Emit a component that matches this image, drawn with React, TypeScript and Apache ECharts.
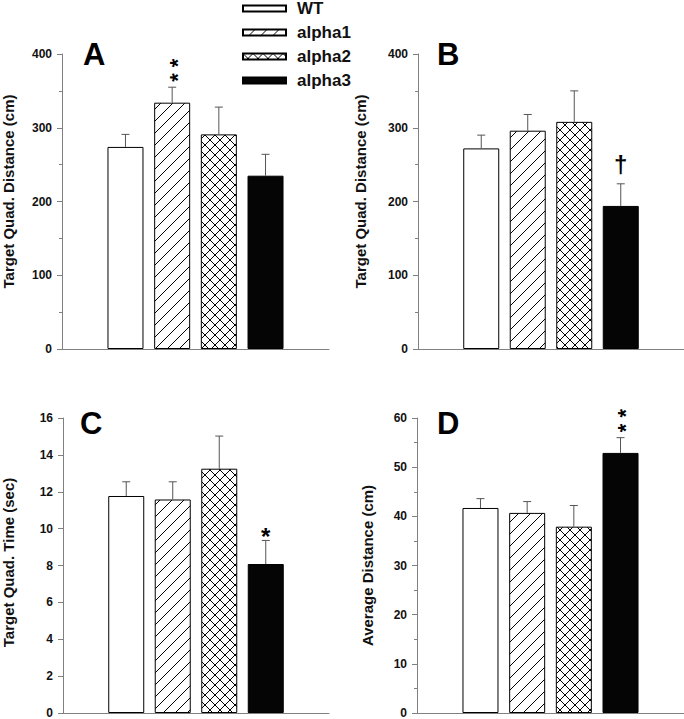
import React, { useEffect, useRef } from 'react';
import * as echarts from 'echarts';

const categories = ['WT', 'alpha1', 'alpha2', 'alpha3'];
const panelLetters = ['A', 'B', 'C', 'D'];
const yNames = [
  'Target Quad. Distance (cm)',
  'Target Quad. Distance (cm)',
  'Target Quad. Time (sec)',
  'Average Distance (cm)',
];

const valuesA = [274, 334, 291, 235];
const errorsA = [17, 21, 37, 29];
const marksA = ['', '**', '', ''];

const valuesB = [272, 296, 308, 194];
const errorsB = [18, 22, 42, 30];
const marksB = ['', '', '', '†'];

const valuesC = [11.77, 11.58, 13.25, 8.08];
const errorsC = [0.77, 0.96, 1.77, 1.28];
const marksC = ['', '', '', '*'];

const valuesD = [41.7, 40.7, 37.9, 52.9];
const errorsD = [1.9, 2.3, 4.3, 3.1];
const marksD = ['', '', '', '**'];

const yMax = [400, 400, 16, 60];
const yInterval = [100, 100, 2, 10];
const yMinorSplit = [2, 2, 0, 2];

const panelValues = [valuesA, valuesB, valuesC, valuesD];
const panelErrors = [errorsA, errorsB, errorsC, errorsD];
const panelMarks = [marksA, marksB, marksC, marksD];

// layout (pixels)
const grids = [
  { left: 62, top: 54, width: 267, height: 295 },
  { left: 418, top: 54, width: 266, height: 295 },
  { left: 62, top: 418, width: 267, height: 295 },
  { left: 417, top: 418, width: 267, height: 295 },
];
const nameGaps = [46, 50, 47, 42];
const namePads = [[0, 0, 0, 20], [0, 0, 0, 20], [0, 0, 0, 6], [0, 0, 0, 0]];
const letterPos = [
  { x: 83, y: 39 },
  { x: 437, y: 39 },
  { x: 80, y: 408 },
  { x: 437, y: 408 },
];

const FONT = '"Liberation Sans", Arial, Helvetica, sans-serif';
const AXIS_COLOR = '#808080';

function makePattern(size: number, kind: 'diag' | 'cross') {
  const c = document.createElement('canvas');
  c.width = size;
  c.height = size;
  const ctx = c.getContext('2d')!;
  ctx.fillStyle = '#ffffff';
  ctx.fillRect(0, 0, size, size);
  ctx.strokeStyle = '#000000';
  ctx.lineWidth = 1;
  ctx.beginPath();
  for (const k of [-size, 0, size]) {
    ctx.moveTo(k, size);
    ctx.lineTo(k + size, 0);
    if (kind === 'cross') {
      ctx.moveTo(k, 0);
      ctx.lineTo(k + size, size);
    }
  }
  ctx.stroke();
  return c;
}

export default function App() {
  const ref = useRef<HTMLDivElement>(null);

  useEffect(() => {
    if (!ref.current) return;
    const chart = echarts.init(ref.current, undefined, { renderer: 'svg' });

    const diag = makePattern(12, 'diag');
    const cross = makePattern(10, 'cross');
    const fills: any[] = [
      '#ffffff',
      { image: diag, repeat: 'repeat' },
      { image: cross, repeat: 'repeat' },
      '#050505',
    ];

    const xAxes = grids.map((_, p) => ({
      type: 'value',
      gridIndex: p,
      min: -1.36,
      max: categories.length - 1 + 1.36,
      axisLine: { show: true, onZero: false, lineStyle: { color: AXIS_COLOR, width: 1 } },
      axisTick: { show: false },
      axisLabel: { show: false },
      splitLine: { show: false },
    }));

    const yAxes = grids.map((_, p) => ({
      type: 'value',
      gridIndex: p,
      min: 0,
      max: yMax[p],
      interval: yInterval[p],
      axisLine: { show: true, onZero: false, lineStyle: { color: AXIS_COLOR, width: 1 } },
      axisTick: { show: true, length: 5, lineStyle: { color: AXIS_COLOR } },
      minorTick: {
        show: yMinorSplit[p] > 0,
        splitNumber: yMinorSplit[p] || 2,
        length: 3,
        lineStyle: { color: AXIS_COLOR },
      },
      splitLine: { show: false },
      minorSplitLine: { show: false },
      axisLabel: {
        margin: 10,
        fontSize: 12,
        fontWeight: 'bold',
        fontFamily: FONT,
        color: '#111',
      },
      name: yNames[p],
      nameLocation: 'middle',
      nameRotate: 90,
      nameGap: nameGaps[p],
      nameTextStyle: {
        fontSize: 15,
        fontWeight: 'bold',
        fontFamily: FONT,
        color: '#111',
        padding: namePads[p],
      },
    }));

    const series: any[] = [];
    grids.forEach((_, p) => {
      const vals = panelValues[p];
      const errs = panelErrors[p];
      const marks = panelMarks[p];
      categories.forEach((cat, i) => {
        series.push({
          type: 'bar',
          name: cat,
          xAxisIndex: p,
          yAxisIndex: p,
          barWidth: 36,
          barGap: '-100%',
          data: [[i, vals[i]]],
          itemStyle: { color: fills[i], borderColor: '#000', borderWidth: 1 },
          silent: true,
        });
      });
      series.push({
        type: 'custom',
        name: 'err' + p,
        xAxisIndex: p,
        yAxisIndex: p,
        z: 5,
        silent: true,
        data: vals.map((v, i) => [i, v, errs[i]]),
        renderItem: (params: any, api: any) => {
          const x = api.value(0);
          const v = api.value(1);
          const e = api.value(2);
          const p0 = api.coord([x, v]);
          const p1 = api.coord([x, v + e]);
          const lineStyle = { stroke: '#555', lineWidth: 1 };
          const children: any[] = [
            { type: 'line', shape: { x1: p0[0], y1: p0[1], x2: p1[0], y2: p1[1] }, style: lineStyle },
            { type: 'line', shape: { x1: p1[0] - 4, y1: p1[1], x2: p1[0] + 4, y2: p1[1] }, style: lineStyle },
          ];
          const m = marks[params.dataIndex];
          if (m) {
            const isDagger = m === '†';
            const stacked = m.length > 1;
            if (stacked) {
              // two asterisks stacked vertically, drawn as one rotated text
              children.push({
                type: 'text',
                x: p1[0] + 5,
                y: p1[1] - 17,
                rotation: Math.PI / 2,
                style: {
                  text: m.split('').join(' '),
                  fill: '#000',
                  fontSize: 22,
                  fontWeight: 'bold',
                  fontFamily: FONT,
                  align: 'center',
                  verticalAlign: 'middle',
                },
              });
            } else {
              children.push({
                type: 'text',
                x: p1[0],
                y: p1[1] - (isDagger ? 19 : 4),
                style: {
                  text: m,
                  fill: '#000',
                  fontSize: 24,
                  fontWeight: 'bold',
                  fontFamily: FONT,
                  align: 'center',
                  verticalAlign: 'middle',
                },
              });
            }
          }
          return { type: 'group', children };
        },
      });
    });

    chart.setOption({
      animation: false,
      backgroundColor: '#ffffff',
      grid: grids.map((g) => ({ ...g, containLabel: false })),
      xAxis: xAxes,
      yAxis: yAxes,
      legend: {
        data: categories,
        orient: 'vertical',
        left: 242,
        top: 0,
        padding: 0,
        itemWidth: 43,
        itemHeight: 6,
        itemGap: 7,
        icon: 'rect',
        selectedMode: false,
        textStyle: {
          fontSize: 17,
          fontWeight: 'bold',
          fontFamily: FONT,
          color: '#111',
          lineHeight: 17,
          padding: [0, 0, 0, 6],
        },
      },
      graphic: panelLetters.map((l, p) => ({
        type: 'text',
        x: letterPos[p].x,
        y: letterPos[p].y,
        style: {
          text: l,
          fontSize: 31,
          fontWeight: 'bold',
          fontFamily: FONT,
          fill: '#000',
          align: 'left',
          verticalAlign: 'top',
        },
      })),
      series,
    });

    return () => {
      chart.dispose();
    };
  }, []);

  return (
    <div
      ref={ref}
      style={{ position: 'absolute', left: 0, top: 0, width: 684, height: 719 }}
    />
  );
}
